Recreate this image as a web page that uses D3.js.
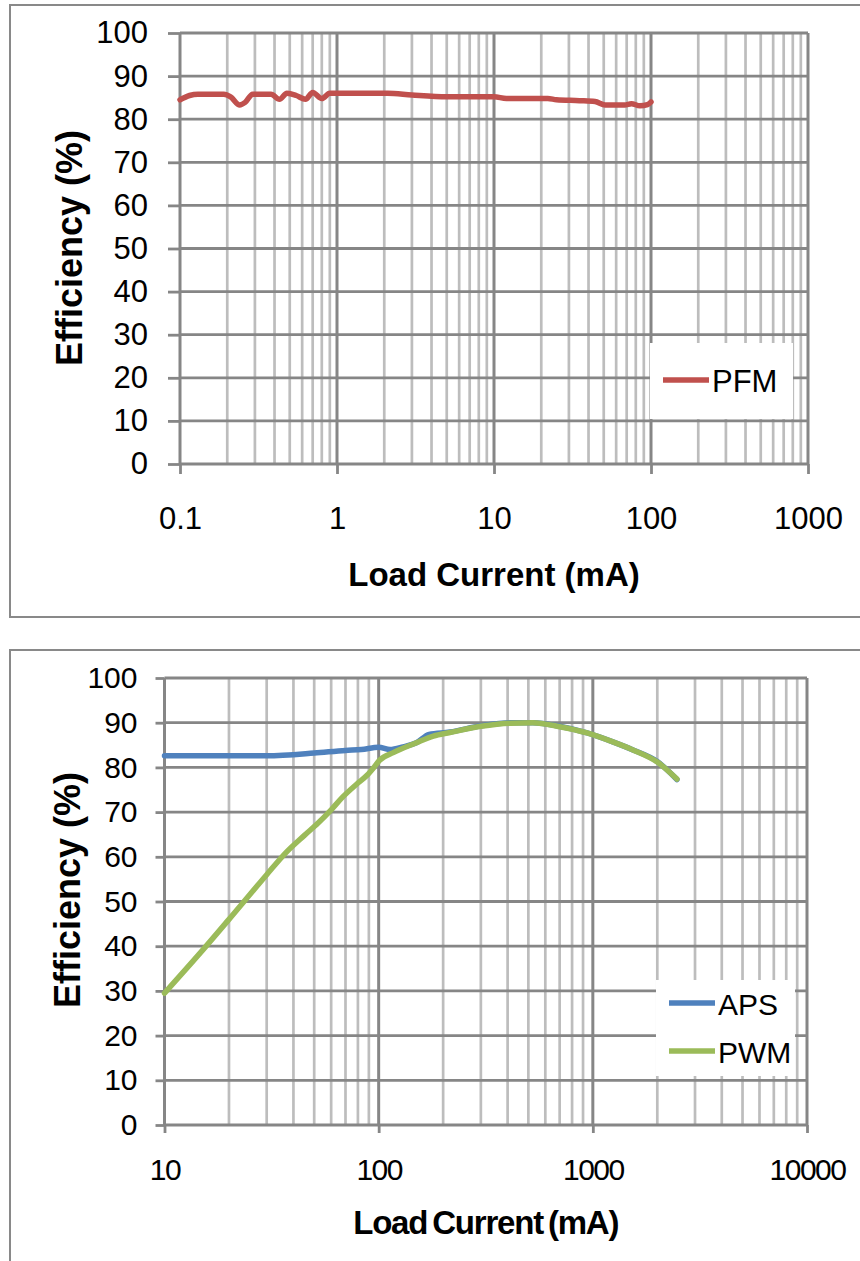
<!DOCTYPE html>
<html>
<head>
<meta charset="utf-8">
<script src="https://cdn.jsdelivr.net/npm/d3@7"></script>
<style>
  body { margin: 0; background: #fff; }
  svg { display: block; font-family: "Liberation Sans", Arial, sans-serif; }
</style>
</head>
<body>
<svg id="chart" width="860" height="1261"></svg>
<script>
// values (load current in mA, efficiency in %)
var pfmCurrent = [0.1, 0.115, 0.13, 0.19, 0.21, 0.24, 0.26, 0.29, 0.38, 0.43, 0.48, 0.55, 0.63, 0.7, 0.8, 0.9,
  1, 2.1, 3, 5, 10, 12, 22, 25, 35, 44, 51, 68, 75, 85, 95, 100];
var pfmEff = [84.5, 85.5, 85.8, 85.8, 85.2, 83.3, 83.9, 85.8, 85.8, 84.6, 86.0, 85.5, 84.6, 86.2, 84.8, 86.0,
  86.0, 86.0, 85.6, 85.2, 85.2, 84.8, 84.8, 84.5, 84.3, 84.1, 83.3, 83.3, 83.6, 83.1, 83.4, 84.0];

var apsCurrent = [10, 20, 30, 50, 70, 83, 100, 113, 130, 150, 172, 215, 300, 410, 525, 700, 940, 1240, 1540, 2000, 2470];
var apsEff = [82.6, 82.6, 82.6, 83.2, 83.8, 84.0, 84.5, 84.0, 84.6, 85.5, 87.4, 87.9, 89.3, 90.0, 90.0, 89.2, 87.7, 85.7, 83.9, 81.3, 77.3];

var pwmCurrent = [10, 15, 20, 30, 37, 45, 52, 60, 68, 80, 88, 95, 101, 117, 150, 180, 215, 300, 410, 525, 700, 940, 1240, 1540, 2000, 2470];
var pwmEff = [29.5, 39.0, 46, 56.0, 61.0, 64.8, 67.5, 70.5, 73.4, 76.5, 78.2, 80, 81.6, 83.3, 85.5, 87, 87.8, 89.2, 89.9, 90.0, 89.1, 87.7, 85.7, 83.9, 81.2, 77.4];

var effTicks = [0, 10, 20, 30, 40, 50, 60, 70, 80, 90, 100];
var topDomain = [0.1, 1000];
var bottomDomain = [10, 10000];

var svg = d3.select("#chart");

function zip(xs, ys) {
  return xs.map(function(v, i) { return { x: v, y: ys[i] }; });
}

function drawPanel(p) {
  var x = d3.scaleLog().domain(p.domain).range([p.left, p.right]);
  var y = d3.scaleLinear().domain([0, 100]).range([p.bottom, p.top]);
  var g = svg.append("g");

  // outer chart frame
  g.append("rect")
    .attr("x", 10).attr("y", p.frameTop)
    .attr("width", 900).attr("height", p.frameHeight)
    .attr("fill", "none").attr("stroke", "#898989").attr("stroke-width", 2);

  var allX = x.ticks();
  var isMajor = function(d) { return Math.abs(Math.log10(d) - Math.round(Math.log10(d))) < 1e-6; };

  g.selectAll(".minor").data(allX.filter(function(d) { return !isMajor(d); }))
    .enter().append("line")
    .attr("x1", x).attr("x2", x)
    .attr("y1", p.top).attr("y2", p.bottom)
    .attr("stroke", "#bdbdbd").attr("stroke-width", 2.7);

  g.selectAll(".hgrid").data(effTicks)
    .enter().append("line")
    .attr("x1", p.left).attr("x2", p.right)
    .attr("y1", y).attr("y2", y)
    .attr("stroke", "#868686").attr("stroke-width", 2.8);

  g.selectAll(".major").data(allX.filter(isMajor))
    .enter().append("line")
    .attr("x1", x).attr("x2", x)
    .attr("y1", p.top).attr("y2", p.bottom)
    .attr("stroke", "#868686").attr("stroke-width", 3);

  var yAxis = g.append("g")
    .attr("transform", "translate(" + p.left + ",0)")
    .call(d3.axisLeft(y).tickValues(effTicks).tickSize(p.yTick).tickPadding(p.yPad));
  yAxis.select(".domain").remove();
  yAxis.selectAll("line").attr("stroke", "#868686").attr("stroke-width", 2.8);
  yAxis.selectAll("text").attr("font-size", p.yFont).attr("fill", "#000")
    .attr("font-family", "Liberation Sans, Arial, sans-serif");

  var xAxis = g.append("g")
    .attr("transform", "translate(0," + p.bottom + ")")
    .call(d3.axisBottom(x).tickValues(allX.filter(isMajor)).tickFormat(d3.format("~g"))
      .tickSize(p.xTick).tickPadding(p.xPad));
  xAxis.select(".domain").remove();
  xAxis.selectAll("line").attr("stroke", "#868686").attr("stroke-width", 2.8);
  xAxis.selectAll("text").attr("font-size", p.xFont).attr("fill", "#000")
    .attr("letter-spacing", p.xLetter)
    .attr("font-family", "Liberation Sans, Arial, sans-serif");

  g.append("text")
    .attr("x", (p.left + p.right) / 2).attr("y", p.titleY)
    .attr("text-anchor", "middle")
    .attr("font-size", 33).attr("font-weight", "bold")
    .attr("letter-spacing", p.titleLetter).attr("word-spacing", p.titleWord)
    .text("Load Current (mA)");

  g.append("text")
    .attr("transform", "translate(" + p.yTitleX + "," + p.yTitleY + ") rotate(-90)")
    .attr("text-anchor", "middle")
    .attr("font-size", 36).attr("font-weight", "bold")
    .text("Efficiency (%)");

  var line = d3.line()
    .x(function(d) { return x(d.x); })
    .y(function(d) { return y(d.y); })
    .curve(d3.curveMonotoneX);

  p.series.forEach(function(s) {
    g.append("path")
      .datum(zip(s.xs, s.ys))
      .attr("d", line)
      .attr("fill", "none")
      .attr("stroke", s.color)
      .attr("stroke-width", 5.5)
      .attr("stroke-linejoin", "round")
      .attr("stroke-linecap", "round");
  });

  // legend
  var lg = p.legend;
  g.append("rect")
    .attr("x", lg.x).attr("y", lg.y)
    .attr("width", lg.w).attr("height", lg.h)
    .attr("fill", "#fff");
  p.series.forEach(function(s, i) {
    var ly = lg.firstRow + i * lg.rowStep;
    g.append("line")
      .attr("x1", lg.x + 13).attr("x2", lg.x + 59)
      .attr("y1", ly).attr("y2", ly)
      .attr("stroke", s.color).attr("stroke-width", 5.5);
    g.append("text")
      .attr("x", lg.x + 62).attr("y", ly + 12)
      .attr("font-size", lg.font)
      .text(s.name);
  });
}

drawPanel({
  domain: topDomain,
  left: 180, right: 808, top: 33, bottom: 464,
  frameTop: 5, frameHeight: 612,
  yTick: 12, yPad: 20, yFont: 31,
  xTick: 10, xPad: 33, xFont: 31, xLetter: 0,
  titleY: 586, titleLetter: 0, titleWord: 0,
  yTitleX: 82, yTitleY: 248,
  series: [{ name: "PFM", xs: pfmCurrent, ys: pfmEff, color: "#C0504D" }],
  legend: { x: 650, y: 343, w: 143, h: 76, firstRow: 380, rowStep: 0, font: 31 }
});

drawPanel({
  domain: bottomDomain,
  left: 164.5, right: 807, top: 678, bottom: 1125,
  frameTop: 650, frameHeight: 700,
  yTick: 9, yPad: 18, yFont: 30,
  xTick: 8, xPad: 26, xFont: 30, xLetter: -1.5,
  titleY: 1234, titleLetter: -1.2, titleWord: -3,
  yTitleX: 80, yTitleY: 890,
  series: [
    { name: "APS", xs: apsCurrent, ys: apsEff, color: "#4F81BD" },
    { name: "PWM", xs: pwmCurrent, ys: pwmEff, color: "#9BBB59" }
  ],
  legend: { x: 656, y: 980, w: 139, h: 96, firstRow: 1003, rowStep: 48, font: 30 }
});
</script>
</body>
</html>
